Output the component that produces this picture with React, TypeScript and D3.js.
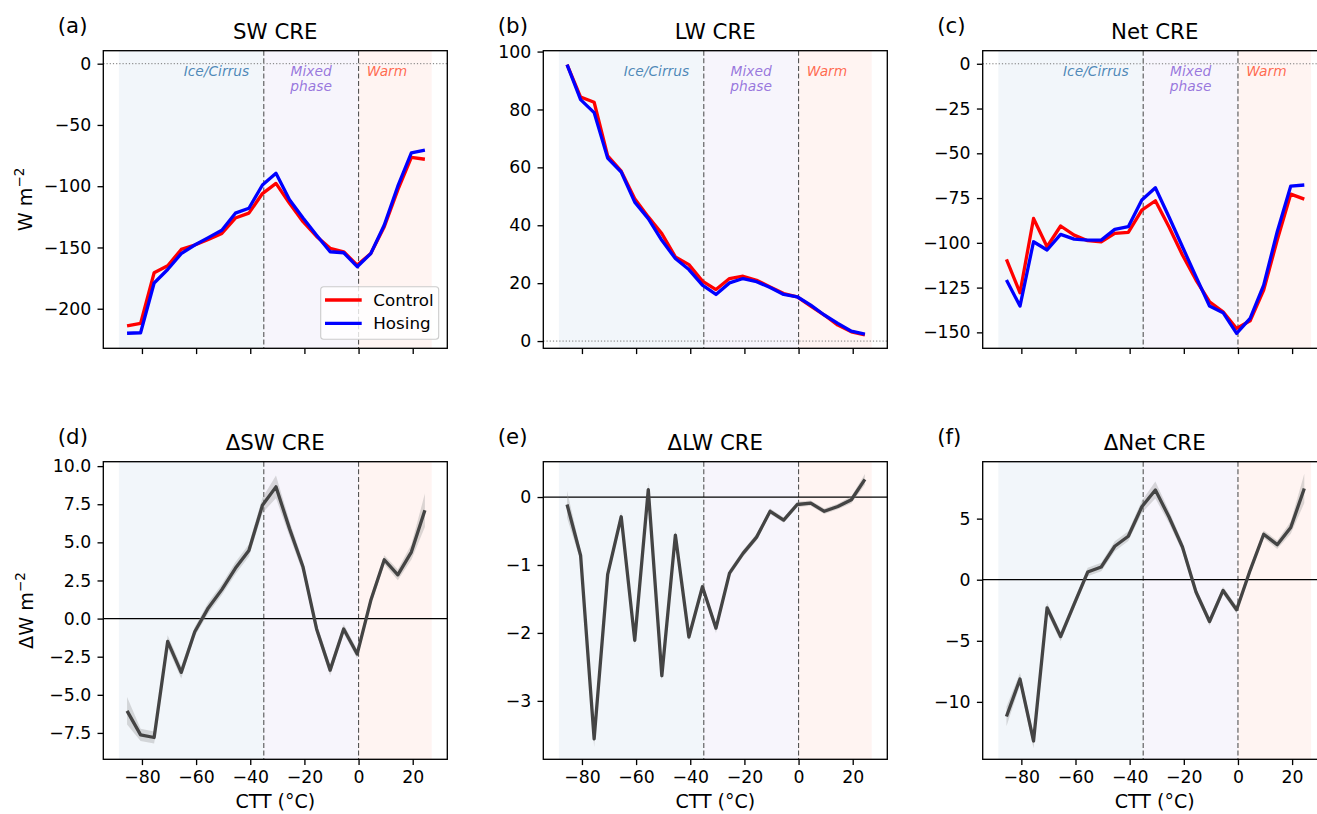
import React, { useEffect, useRef } from 'react';
import * as d3 from 'd3';

// cloud-top temperature bin centres (°C)
const ctt = [-85.5, -80.5, -75.5, -70.5, -65.5, -60.5, -55.5, -50.5, -45.5, -40.5, -35.5, -30.5,
  -25.5, -20.5, -15.5, -10.5, -5.5, -0.5, 4.5, 9.5, 14.5, 19.5, 24.5];

const swControl = [-214, -212, -170.6, -165, -151.6, -148, -143.4, -138.5, -126, -122, -106, -97.7,
  -114, -129, -141, -150.7, -153.5, -164.4, -155, -133, -103, -76.5, -78];
const swHosing = [-220, -219.6, -179, -168, -155, -148, -142, -136, -122, -118, -99, -89.5,
  -111, -126, -140, -153.5, -154.3, -165.7, -155, -131.7, -100, -72.7, -70.5];

const lwControl = [95.5, 84.3, 82.5, 64, 58.7, 49.2, 42.9, 37.1, 29.1, 26.4, 20.7, 17.8,
  21.6, 22.4, 21, 18.7, 16.4, 15.3, 12.1, 9, 5.5, 3.2, 2.1];
const lwHosing = [95.5, 83.4, 78.9, 63.2, 58.4, 48, 42.3, 34.8, 28.5, 24.7, 19.3, 16.1,
  20.1, 21.6, 20.5, 18.5, 16.1, 15.3, 12.4, 9, 6.1, 3.4, 2.4];

const netControl = [-109.2, -127.9, -86.4, -102.2, -90.6, -95.7, -98.8, -99.4, -94.7, -94.2, -81.7, -76.5,
  -91, -106.8, -120.8, -132.9, -138.5, -147.8, -143.5, -126.4, -98.5, -72.8, -75.6];
const netHosing = [-120.8, -135.3, -99.4, -104, -95.3, -97.9, -98.5, -98.5, -92.5, -91, -76.1, -69.2,
  -85.4, -102.2, -118.9, -135.3, -139, -150.6, -142.2, -123.6, -93.8, -68.3, -67.7];

const dSw = [-6.05, -7.63, -7.8, -1.5, -3.53, -0.86, 0.7, 1.9, 3.3, 4.47, 7.43, 8.64,
  5.9, 3.38, -0.68, -3.38, -0.68, -2.32, 1.18, 3.86, 2.87, 4.36, 7.1];
const dSwErr = [0.9, 0.4, 0.4, 0.4, 0.4, 0.3, 0.35, 0.35, 0.4, 0.4, 0.5, 0.75,
  0.5, 0.4, 0.35, 0.35, 0.3, 0.3, 0.3, 0.3, 0.35, 0.5, 1.1];

const dLw = [-0.11, -0.86, -3.56, -1.14, -0.29, -2.11, 0.11, -2.63, -0.56, -2.06, -1.32, -1.93,
  -1.12, -0.83, -0.59, -0.21, -0.34, -0.11, -0.09, -0.21, -0.14, -0.04, 0.26];
const dLwErr = [0.2, 0.08, 0.12, 0.07, 0.07, 0.07, 0.1, 0.07, 0.07, 0.06, 0.06, 0.07,
  0.05, 0.05, 0.05, 0.04, 0.04, 0.04, 0.04, 0.04, 0.04, 0.05, 0.08];

const dNet = [-11.2, -8.13, -13.2, -2.3, -4.65, -2.0, 0.63, 1.04, 2.74, 3.56, 5.97, 7.34,
  5.15, 2.68, -1.01, -3.42, -0.88, -2.46, 0.77, 3.72, 2.87, 4.27, 7.47];
const dNetErr = [0.8, 0.5, 0.6, 0.4, 0.4, 0.35, 0.35, 0.35, 0.4, 0.4, 0.5, 0.7,
  0.5, 0.4, 0.35, 0.35, 0.3, 0.3, 0.3, 0.3, 0.35, 0.5, 1.2];

const regionEdges = [-88.5, -35, 0, 27];
const regionFill = ['steelblue', 'mediumpurple', 'tomato'];
const regionNames = [['Ice/Cirrus'], ['Mixed', 'phase'], ['Warm']];
const regionTextX = [-52.5, -17.5, 10.5];
const xTicks = [-80, -60, -40, -20, 0, 20];

const panels = [
  { tag: '(a)', title: 'SW CRE', yDomain: [-232.3, 10.6], yTicks: [-200, -150, -100, -50, 0], fmt: 'd', control: swControl, hosing: swHosing, ylabel: 'W m', legend: true },
  { tag: '(b)', title: 'LW CRE', yDomain: [-2.5, 100.3], yTicks: [0, 20, 40, 60, 80, 100], fmt: 'd', control: lwControl, hosing: lwHosing },
  { tag: '(c)', title: 'Net CRE', yDomain: [-158.9, 7.3], yTicks: [-150, -125, -100, -75, -50, -25, 0], fmt: 'd', control: netControl, hosing: netHosing },
  { tag: '(d)', title: 'ΔSW CRE', yDomain: [-9.23, 10.29], yTicks: [-7.5, -5, -2.5, 0, 2.5, 5, 7.5, 10], fmt: '.1f', delta: dSw, err: dSwErr, ylabel: 'ΔW m' },
  { tag: '(e)', title: 'ΔLW CRE', yDomain: [-3.86, 0.52], yTicks: [-3, -2, -1, 0], fmt: 'd', delta: dLw, err: dLwErr },
  { tag: '(f)', title: 'ΔNet CRE', yDomain: [-14.7, 9.66], yTicks: [-10, -5, 0, 5], fmt: 'd', delta: dNet, err: dNetErr },
];

const FONT = 'DejaVu Sans, sans-serif';

const App = () => {
  const ref = useRef<SVGSVGElement>(null);

  useEffect(() => {
    const svg = d3.select(ref.current);
    svg.selectAll('*').remove();

    const colLeft = [103.3, 543.3, 982.7];
    const rowTop = [50.7, 461.7];
    const axW = 344;
    const axH = 297.6;
    const pad = (regionEdges[3] - regionEdges[0]) * 0.05;

    panels.forEach((p, idx) => {
      const row = Math.floor(idx / 3);
      const col = idx % 3;
      const left = colLeft[col];
      const top = rowTop[row];
      const g = svg.append('g').attr('transform', `translate(${left},${top})`);

      const x = d3.scaleLinear().domain([regionEdges[0] - pad, regionEdges[3] + pad]).range([0, axW]);
      const y = d3.scaleLinear().domain(p.yDomain).range([axH, 0]);

      // shaded regimes
      regionFill.forEach((c, i) => {
        g.append('rect')
          .attr('x', x(regionEdges[i]))
          .attr('width', x(regionEdges[i + 1]) - x(regionEdges[i]))
          .attr('y', 0)
          .attr('height', axH)
          .attr('fill', c)
          .attr('fill-opacity', 0.07);
      });

      // regime boundaries
      [-35, 0].forEach(v => {
        g.append('line')
          .attr('x1', x(v)).attr('x2', x(v))
          .attr('y1', 0).attr('y2', axH)
          .attr('stroke', '#555')
          .attr('stroke-width', 1.1)
          .attr('stroke-dasharray', '5,2.6');
      });

      // zero line
      const zl = g.append('line')
        .attr('x1', 0).attr('x2', axW)
        .attr('y1', y(0)).attr('y2', y(0));
      if (row === 0) {
        zl.attr('stroke', '#777').attr('stroke-width', 1).attr('stroke-dasharray', '1.2,2');
      } else {
        zl.attr('stroke', '#000').attr('stroke-width', 1.2);
      }

      if (row === 0) {
        const line = d3.line<number>().x((d, i) => x(ctt[i])).y(d => y(d));
        g.append('path').attr('d', line(p.control)).attr('fill', 'none')
          .attr('stroke', '#ff0000').attr('stroke-width', 3.3).attr('stroke-linejoin', 'round');
        g.append('path').attr('d', line(p.hosing)).attr('fill', 'none')
          .attr('stroke', '#0000ff').attr('stroke-width', 3.3).attr('stroke-linejoin', 'round');

        regionNames.forEach((lines, i) => {
          const t = g.append('text')
            .attr('x', x(regionTextX[i]))
            .attr('y', 25)
            .attr('text-anchor', 'middle')
            .attr('font-family', FONT)
            .attr('font-style', 'italic')
            .attr('font-size', 13.8)
            .attr('fill', regionFill[i])
            .attr('fill-opacity', 0.95);
          lines.forEach((s, j) => {
            t.append('tspan').attr('x', x(regionTextX[i])).attr('dy', j === 0 ? 0 : 15.3).text(s);
          });
        });
      } else {
        const area = d3.area<number>()
          .x((d, i) => x(ctt[i]))
          .y0((d, i) => y(d - p.err[i]))
          .y1((d, i) => y(d + p.err[i]));
        g.append('path').attr('d', area(p.delta)).attr('fill', '#999').attr('fill-opacity', 0.35);
        const line = d3.line<number>().x((d, i) => x(ctt[i])).y(d => y(d));
        g.append('path').attr('d', line(p.delta)).attr('fill', 'none')
          .attr('stroke', '#444').attr('stroke-width', 3.3).attr('stroke-linejoin', 'round');
      }

      // axes
      const yAxis = d3.axisLeft(y).tickValues(p.yTicks).tickSize(5.8).tickPadding(6.3)
        .tickFormat(d3.format(p.fmt));
      const ya = g.append('g').call(yAxis);
      const xAxis = d3.axisBottom(x).tickValues(xTicks).tickSize(5.8).tickPadding(5.6)
        .tickFormat(row === 1 ? d3.format('d') : () => '');
      const xa = g.append('g').attr('transform', `translate(0,${axH})`).call(xAxis);
      [ya, xa].forEach(a => {
        a.select('.domain').remove();
        a.selectAll('line').attr('stroke', '#000').attr('stroke-width', 1.33);
        a.selectAll('text').attr('fill', '#000').attr('font-size', 17.3).attr('font-family', FONT);
      });

      g.append('rect').attr('width', axW).attr('height', axH)
        .attr('fill', 'none').attr('stroke', '#000').attr('stroke-width', 1.33);

      // titles
      g.append('text').attr('x', axW / 2).attr('y', -11.4).attr('text-anchor', 'middle')
        .attr('font-family', FONT).attr('font-size', 21.3).attr('fill', '#000').text(p.title);
      g.append('text').attr('x', -45.5).attr('y', -17.4)
        .attr('font-family', FONT).attr('font-size', 21.3).attr('fill', '#000').text(p.tag);

      if (p.ylabel) {
        const t = g.append('text')
          .attr('transform', `translate(${(row === 0 ? 31.5 : 33) - left},${axH / 2}) rotate(-90)`)
          .attr('text-anchor', 'middle')
          .attr('font-family', FONT).attr('font-size', 19.2).attr('fill', '#000');
        t.append('tspan').text(p.ylabel);
        t.append('tspan').attr('dy', -8).attr('font-size', 13.5).text('−2');
      }

      if (row === 1) {
        g.append('text').attr('x', axW / 2).attr('y', axH + 48.5).attr('text-anchor', 'middle')
          .attr('font-family', FONT).attr('font-size', 19).attr('fill', '#000').text('CTT (°C)');
      }

      if (p.legend) {
        const lg = g.append('g').attr('transform', `translate(${axW - 126.6},${axH - 61.6})`);
        lg.append('rect').attr('width', 118).attr('height', 52.6).attr('rx', 3)
          .attr('fill', '#fff').attr('fill-opacity', 0.8)
          .attr('stroke', '#ccc').attr('stroke-width', 1.1);
        const items = [{ label: 'Control', color: '#ff0000' }, { label: 'Hosing', color: '#0000ff' }];
        items.forEach((it, i) => {
          const yy = 13.3 + i * 23.3;
          lg.append('line').attr('x1', 4.3).attr('x2', 41).attr('y1', yy).attr('y2', yy)
            .attr('stroke', it.color).attr('stroke-width', 3.3);
          lg.append('text').attr('x', 52.6).attr('y', yy + 6)
            .attr('font-family', FONT).attr('font-size', 16.7).attr('fill', '#000').text(it.label);
        });
      }
    });
  }, []);

  return (
    <svg ref={ref} width={1317} height={814}
      style={{ position: 'absolute', left: 0, top: 0, background: '#fff' }} />
  );
};

export default App;
